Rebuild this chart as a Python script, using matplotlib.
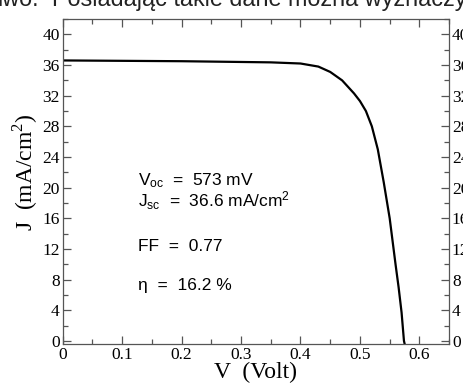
import matplotlib
matplotlib.use("Agg")
import matplotlib.pyplot as plt
from matplotlib.ticker import MultipleLocator

# Data
voltage = [0.0, 0.1, 0.2, 0.3, 0.35, 0.40, 0.43, 0.45, 0.47, 0.49, 0.50, 0.51,
           0.52, 0.53, 0.54, 0.55, 0.56, 0.565, 0.57, 0.574, 0.5755]
current = [36.6, 36.55, 36.5, 36.4, 36.35, 36.2, 35.8, 35.1, 34.0, 32.3, 31.3, 30.0,
           28.0, 25.0, 20.7, 16.0, 9.9, 7.0, 3.7, 0.0, -0.5]

x_ticks = [0, 0.1, 0.2, 0.3, 0.4, 0.5, 0.6]
x_tick_labels = ["0", "0.1", "0.2", "0.3", "0.4", "0.5", "0.6"]
y_ticks = [0, 4, 8, 12, 16, 20, 24, 28, 32, 36, 40]

params = [r"V$_{\mathregular{oc}}$  =  573 mV",
          r"J$_{\mathregular{sc}}$  =  36.6 mA/cm$^{\mathregular{2}}$",
          "FF  =  0.77",
          "η  =  16.2 %"]
param_y = [20.3, 17.5, 11.8, 6.6]

plt.rcParams["mathtext.fontset"] = "custom"
plt.rcParams["mathtext.rm"] = "Liberation Sans"
plt.rcParams["mathtext.it"] = "Liberation Sans"

fig = plt.figure(figsize=(4.64, 3.85), dpi=100)
ax = fig.add_axes([0.135, 0.1065, 0.833, 0.844])

ax.plot(voltage, current, color="black", lw=1.6, solid_capstyle="butt")

ax.set_xlim(0, 0.65)
ax.set_ylim(-0.4, 42)

serif = "Liberation Serif"
ax.set_xticks(x_ticks)
ax.set_xticklabels(x_tick_labels)
ax.set_yticks(y_ticks)
ax.xaxis.set_minor_locator(MultipleLocator(0.05))
ax.yaxis.set_minor_locator(MultipleLocator(2))

ax.tick_params(which="both", direction="in", top=True, right=True,
               labelright=True, color="#555555", width=0.9)
ax.tick_params(which="major", length=6, labelsize=12.5, pad=2)
ax.tick_params(which="minor", length=3.5)
for t in ax.xaxis.get_major_ticks():
    t.label1.set_fontfamily(serif)
for t in ax.yaxis.get_major_ticks():
    t.label1.set_fontfamily(serif)
    t.label2.set_fontfamily(serif)

for s in ax.spines.values():
    s.set_color("#555555")
    s.set_linewidth(0.9)

ax.set_xlabel("V  (Volt)", fontfamily=serif, fontsize=17, labelpad=-1)
ax.set_ylabel(r"J  (mA/cm$^{\mathregular{2}}$)", fontfamily=serif, fontsize=17, labelpad=2)
ax.yaxis.label.set_y(0.53)

for txt, yv in zip(params, param_y):
    ax.text(0.126, yv, txt, fontfamily="Liberation Sans", fontsize=12.5,
            va="baseline", ha="left")

fig.text(-0.005, 0.984, "iwo.", fontfamily="Liberation Sans",
         fontsize=16.8, va="baseline", ha="left", color="#222222")
fig.text(0.112, 0.984, "Posiadając takie dane można wyznaczyć", fontfamily="Liberation Sans",
         fontsize=16.8, va="baseline", ha="left", color="#222222")

fig.savefig("out.png", dpi=100)
